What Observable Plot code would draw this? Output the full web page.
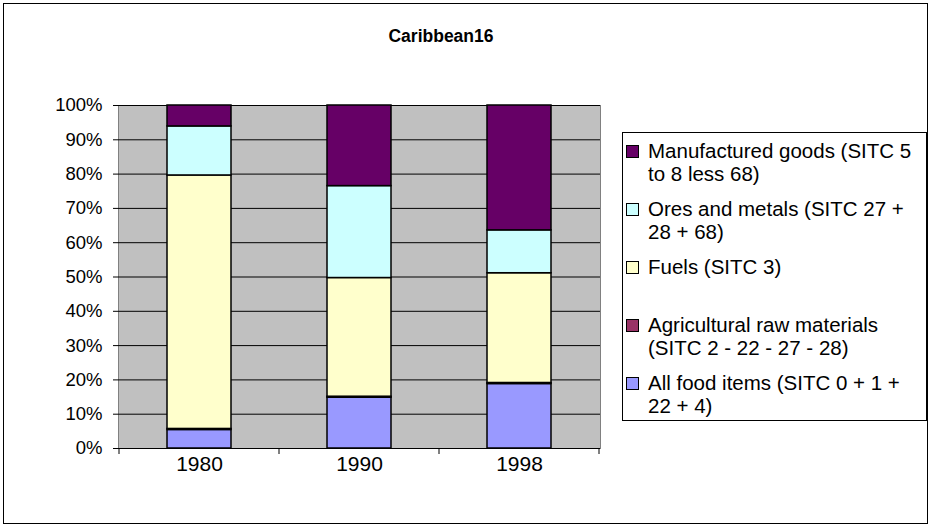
<!DOCTYPE html>
<html>
<head>
<meta charset="utf-8">
<script src="https://cdn.jsdelivr.net/npm/d3@7"></script>
<script src="https://cdn.jsdelivr.net/npm/@observablehq/plot@0.6"></script>
<style>
  html, body { margin: 0; padding: 0; background: #fff; }
  #wrap { position: relative; width: 932px; height: 528px; font-family: "Liberation Sans", Arial, sans-serif; }
  #frame { position: absolute; left: 3px; top: 3px; width: 925px; height: 521px; border: 1px solid #000; box-sizing: border-box; pointer-events: none; }
  #title { position: absolute; left: 0; width: 882px; top: 26px; text-align: center; font-weight: bold; font-size: 17.5px; color: #000; }
  #legend { position: absolute; left: 622px; top: 132px; width: 305px; height: 289px; border: 1px solid #000; box-sizing: border-box; background: #fff; padding-top: 6px; }
  .entry { position: relative; height: 58px; }
  .sw { position: absolute; left: 3px; top: 6px; width: 11px; height: 11px; border: 1px solid #000; }
  .lab { position: absolute; left: 25px; top: 0; font-size: 20.5px; line-height: 23px; white-space: pre; color: #000; }
  #chart { position: absolute; left: 0; top: 0; }
</style>
</head>
<body>
<div id="wrap">
  <div id="chart"></div>
  <div id="title"></div>
  <div id="legend"></div>
  <div id="frame"></div>
</div>
<script>
const chartTitle = "Caribbean16";
const years = ["1980", "1990", "1998"];
// stacking order, bottom to top
const seriesNames = [
  "All food items (SITC 0 + 1 + 22 + 4)",
  "Agricultural raw materials (SITC 2 - 22 - 27 - 28)",
  "Fuels (SITC 3)",
  "Ores and metals (SITC 27 + 28 + 68)",
  "Manufactured goods (SITC 5 to 8 less 68)"
];
const legendLabels = [
  "All food items (SITC 0 + 1 +\n22 + 4)",
  "Agricultural raw materials\n(SITC 2 - 22 - 27 - 28)",
  "Fuels (SITC 3)",
  "Ores and metals (SITC 27 +\n28 + 68)",
  "Manufactured goods (SITC 5\nto 8 less 68)"
];
const seriesColors = ["#9999FF", "#993366", "#FFFFCC", "#CCFFFF", "#660066"];
const food     = [5.4, 14.8, 18.8];
const agri     = [0.3, 0.3, 0.3];
const fuels    = [73.9, 34.6, 32.0];
const ores     = [14.3, 26.8, 12.5];
const manuf    = [6.1, 23.5, 36.4];
const yTicks = [0, 10, 20, 30, 40, 50, 60, 70, 80, 90, 100];

const seriesValues = [food, agri, fuels, ores, manuf];
const rows = [];
years.forEach((yr, i) => {
  seriesNames.forEach((s, j) => rows.push({year: yr, series: s, value: seriesValues[j][i]}));
});

const W = 932, H = 528;
const chart = Plot.plot({
  width: W,
  height: H,
  marginLeft: 118,
  marginRight: 332,
  marginTop: 105,
  marginBottom: 80,
  style: {fontFamily: "'Liberation Sans', Arial, sans-serif", background: "transparent", color: "#000"},
  x: {domain: years, padding: 0, label: null},
  y: {domain: [0, 100], label: null},
  color: {domain: seriesNames, range: seriesColors},
  marks: [
    Plot.frame({fill: "#C0C0C0", stroke: "#808080"}),
    Plot.ruleY(yTicks.filter(d => d > 0), {stroke: "#000", strokeWidth: 1}),
    Plot.barY(rows, {
      x: "year", y: "value", fill: "series", order: seriesNames,
      stroke: "#000", strokeWidth: 1.5, insetLeft: 48, insetRight: 48
    }),
    Plot.ruleY([0], {stroke: "#000", strokeWidth: 1}),
    Plot.axisY({ticks: yTicks, tickSize: 5, tickPadding: 11, tickFormat: d => d + "%", fontSize: 18.5, label: null, stroke: "#000"}),
    Plot.axisX({tickSize: 0, tickPadding: 8, fontSize: 21, label: null})
  ]
});

// category divider ticks at band edges, from the x scale
const xs = chart.scale("x");
const bw = xs.bandwidth;
const edges = years.map(y => xs.apply(y)).concat([xs.apply(years[years.length - 1]) + bw]);
const y0 = chart.scale("y").apply(0);
const svg = d3.select(chart);
svg.append("g").selectAll("line").data(edges).join("line")
  .attr("x1", d => d).attr("x2", d => d)
  .attr("y1", y0).attr("y2", y0 + 6)
  .attr("stroke", "#000");

document.getElementById("chart").appendChild(chart);
document.getElementById("title").textContent = chartTitle;

const legend = d3.select("#legend");
const order = seriesNames.map((_, i) => i).reverse();
order.forEach(i => {
  const e = legend.append("div").attr("class", "entry");
  e.append("div").attr("class", "sw").style("background", seriesColors[i]);
  e.append("div").attr("class", "lab").text(legendLabels[i]);
});
</script>
</body>
</html>
